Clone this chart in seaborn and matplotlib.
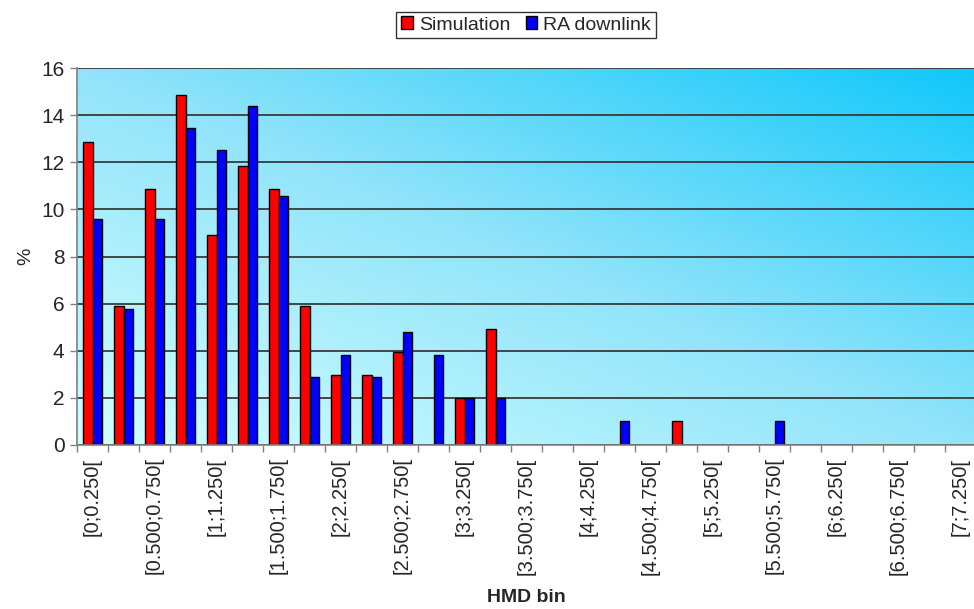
import numpy as np
import pandas as pd
import seaborn as sns
import matplotlib.pyplot as plt
from matplotlib.colors import LinearSegmentedColormap

# data

bin_starts = ["0", "0.250", "0.500", "0.750", "1", "1.250", "1.500", "1.750",
              "2", "2.250", "2.500", "2.750", "3", "3.250", "3.500", "3.750",
              "4", "4.250", "4.500", "4.750", "5", "5.250", "5.500", "5.750",
              "6", "6.250", "6.500", "6.750", "7", "7.250"]

simulation = [12.85, 5.9, 10.86, 14.84, 8.93, 11.85, 10.86, 5.9, 2.97, 2.95,
              3.95, 0, 2.0, 4.94, 0, 0, 0, 0, 0, 1.0,
              0, 0, 0, 0, 0, 0, 0, 0, 0]

ra_downlink = [9.61, 5.79, 9.61, 13.47, 12.5, 14.39, 10.55, 2.87, 3.84, 2.87,
               4.8, 3.84, 2.0, 2.0, 0, 0, 0, 1.0, 0, 0,
               0, 0, 1.0, 0, 0, 0, 0, 0, 0]

bins = ["[" + bin_starts[i] + ";" + bin_starts[i + 1] + "[" for i in range(len(simulation))]

df = pd.DataFrame({
    "bin": bins * 2,
    "value": simulation + ra_downlink,
    "series": ["Simulation"] * len(bins) + ["RA downlink"] * len(bins)
})

# figure

sns.set_theme(style="white")
plt.rcParams["font.family"] = ["Liberation Sans", "DejaVu Sans"]

fig = plt.figure(figsize=(9.74, 6.09), dpi=100)
ax = fig.add_axes([77 / 974, 164 / 609, 899 / 974, 377 / 609])

# gradient background
cmap = LinearSegmentedColormap.from_list(
    "bg", [(0, "#d2ffff"), (0.5, "#92e4fa"), (1, "#10c8fa")])
gx, gy = np.meshgrid(np.linspace(0, 1, 300), np.linspace(0, 1, 200))
ax.imshow((gx + gy) / 2, cmap=cmap, extent=[0, 1, 0, 1], origin="lower",
          transform=ax.transAxes, aspect="auto", zorder=0)

sns.barplot(
    data=df,
    x="bin",
    y="value",
    hue="series",
    palette=["#ff0000", "#0000ff"],
    saturation=1,
    edgecolor="black",
    linewidth=1,
    width=0.62,
    errorbar=None,
    ax=ax,
    zorder=2
)

for p in ax.patches:
    if p.get_height() == 0:
        p.set_linewidth(0)

ax.set_xlim(-0.5, len(bins) - 0.5)
ax.set_ylim(0, 16)
ax.set_yticks(range(0, 17, 2))
ax.yaxis.grid(True, color="#3a3a3a", linewidth=1.3)
for line in ax.get_ygridlines():
    line.set_zorder(1)

ax.set_xticks(range(len(bins)))
ax.set_xticklabels([b if i % 2 == 0 else "" for i, b in enumerate(bins)],
                   rotation=90, fontsize=14.5)
ax.tick_params(axis="x", length=0, pad=9)
ax.set_xticks(np.arange(-0.5, len(bins), 1), minor=True)
ax.tick_params(axis="x", which="minor", length=5, width=1, color="#808080",
               direction="out", bottom=True)
ax.tick_params(axis="y", length=5, width=1, color="#808080", direction="out",
               left=True, labelsize=15, pad=4)

for side in ["top", "right"]:
    ax.spines[side].set_visible(False)
for side in ["left", "bottom"]:
    ax.spines[side].set_color("#808080")
    ax.spines[side].set_linewidth(1.2)

ax.set_xlabel("HMD bin", fontsize=14, fontweight="bold", labelpad=10)
ax.set_ylabel("%", fontsize=14, labelpad=5)

handles, labels = ax.get_legend_handles_labels()
ax.get_legend().remove()
for h in handles:
    h.set_edgecolor("black")
    h.set_linewidth(1)
leg = fig.legend(handles, labels, loc="center",
                 bbox_to_anchor=(526 / 974, 1 - 25 / 609), ncol=2,
                 fontsize=14, frameon=True, fancybox=False, edgecolor="black",
                 handlelength=0.6, handleheight=0.6, handletextpad=0.3,
                 columnspacing=0.8, borderpad=0.25)
leg.get_frame().set_linewidth(1)

fig.savefig("out.png", dpi=100)
